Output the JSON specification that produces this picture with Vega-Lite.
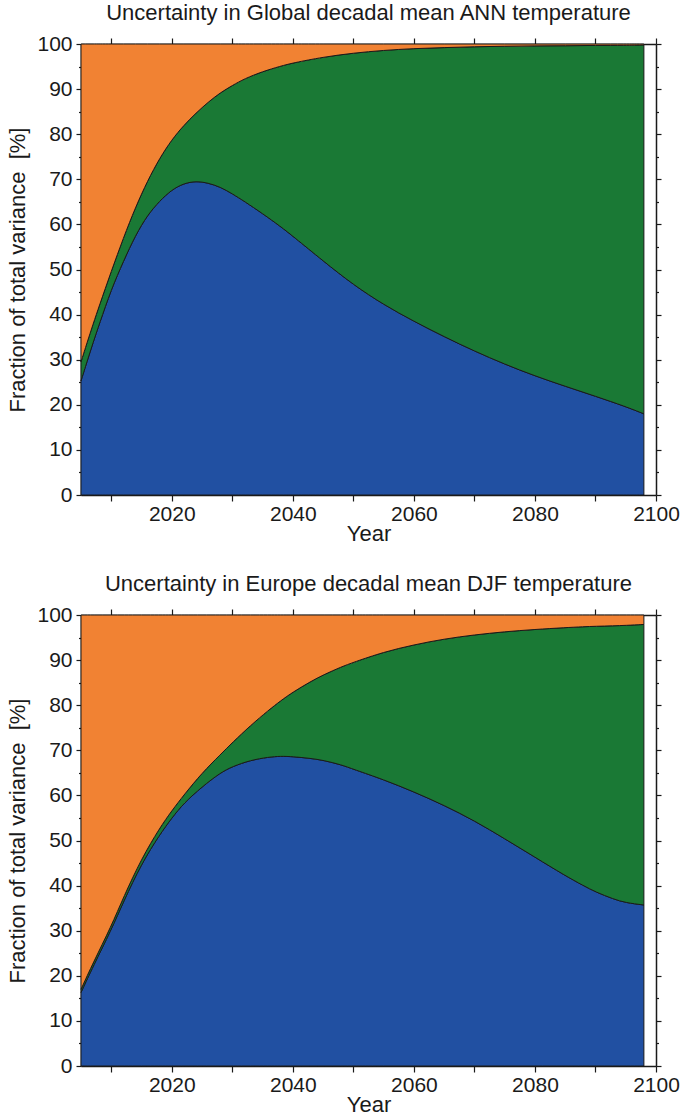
{
  "$schema": "https://vega.github.io/schema/vega-lite/v6.json",
  "padding": {"left": 6, "top": 2, "right": 5, "bottom": 0},
  "spacing": 29,
  "config": {
    "font": "Liberation Sans",
    "view": {"stroke": null},
    "title": {"fontSize": 22, "fontWeight": "normal", "color": "#1a1a1a", "offset": 8, "anchor": "middle"},
    "axis": {
      "grid": false,
      "domainColor": "#1a1a1a",
      "domainWidth": 1.5,
      "tickColor": "#1a1a1a",
      "tickWidth": 1.2,
      "labelFontSize": 21,
      "labelColor": "#1a1a1a",
      "titleFontSize": 22,
      "titleFontWeight": "normal",
      "titleColor": "#1a1a1a",
      "labelFlush": false,
      "labelOverlap": false
    }
  },
  "datasets": {
    "global": [
      {"year": 2005, "model": 25.3, "scenario": 4.2, "variability": 70.5},
      {"year": 2006, "model": 29.6, "scenario": 4.2, "variability": 66.2},
      {"year": 2007, "model": 33.8, "scenario": 4.1, "variability": 62.1},
      {"year": 2008, "model": 37.8, "scenario": 4.1, "variability": 58.1},
      {"year": 2010, "model": 45.6, "scenario": 4.0, "variability": 50.4},
      {"year": 2012, "model": 51.8, "scenario": 5.2, "variability": 43.0},
      {"year": 2014, "model": 57.6, "scenario": 6.2, "variability": 36.2},
      {"year": 2016, "model": 62.1, "scenario": 7.6, "variability": 30.3},
      {"year": 2018, "model": 65.2, "scenario": 9.5, "variability": 25.3},
      {"year": 2020, "model": 67.7, "scenario": 11.1, "variability": 21.2},
      {"year": 2022, "model": 69.1, "scenario": 12.9, "variability": 18.0},
      {"year": 2024, "model": 69.6, "scenario": 15.1, "variability": 15.3},
      {"year": 2026, "model": 69.2, "scenario": 17.9, "variability": 12.9},
      {"year": 2028, "model": 68.3, "scenario": 20.9, "variability": 10.8},
      {"year": 2030, "model": 66.8, "scenario": 24.0, "variability": 9.2},
      {"year": 2032, "model": 65.1, "scenario": 27.2, "variability": 7.7},
      {"year": 2035, "model": 62.4, "scenario": 31.5, "variability": 6.1},
      {"year": 2038, "model": 59.5, "scenario": 35.6, "variability": 4.9},
      {"year": 2040, "model": 57.4, "scenario": 38.4, "variability": 4.2},
      {"year": 2045, "model": 51.9, "scenario": 45.2, "variability": 2.9},
      {"year": 2050, "model": 46.6, "scenario": 51.4, "variability": 2.0},
      {"year": 2055, "model": 42.2, "scenario": 56.4, "variability": 1.4},
      {"year": 2060, "model": 38.5, "scenario": 60.5, "variability": 1.0},
      {"year": 2065, "model": 35.1, "scenario": 64.1, "variability": 0.8},
      {"year": 2070, "model": 31.9, "scenario": 67.5, "variability": 0.6},
      {"year": 2075, "model": 29.0, "scenario": 70.5, "variability": 0.5},
      {"year": 2080, "model": 26.4, "scenario": 73.2, "variability": 0.4},
      {"year": 2085, "model": 24.1, "scenario": 75.5, "variability": 0.4},
      {"year": 2090, "model": 21.9, "scenario": 77.8, "variability": 0.3},
      {"year": 2095, "model": 19.6, "scenario": 80.1, "variability": 0.3},
      {"year": 2098, "model": 18.0, "scenario": 81.8, "variability": 0.2}
    ],
    "europe": [
      {"year": 2005, "model": 16.3, "scenario": 0.7, "variability": 83.0},
      {"year": 2007, "model": 22.1, "scenario": 0.8, "variability": 77.1},
      {"year": 2010, "model": 30.2, "scenario": 0.8, "variability": 69.0},
      {"year": 2012, "model": 36.4, "scenario": 1.0, "variability": 62.6},
      {"year": 2015, "model": 44.9, "scenario": 1.1, "variability": 54.0},
      {"year": 2018, "model": 51.3, "scenario": 1.5, "variability": 47.2},
      {"year": 2020, "model": 55.0, "scenario": 1.6, "variability": 43.4},
      {"year": 2022, "model": 58.3, "scenario": 1.8, "variability": 39.9},
      {"year": 2025, "model": 61.9, "scenario": 3.1, "variability": 35.0},
      {"year": 2028, "model": 65.0, "scenario": 4.0, "variability": 31.0},
      {"year": 2030, "model": 66.4, "scenario": 5.3, "variability": 28.3},
      {"year": 2033, "model": 67.8, "scenario": 7.7, "variability": 24.5},
      {"year": 2036, "model": 68.5, "scenario": 10.4, "variability": 21.1},
      {"year": 2038, "model": 68.7, "scenario": 12.3, "variability": 19.0},
      {"year": 2040, "model": 68.6, "scenario": 14.3, "variability": 17.1},
      {"year": 2043, "model": 68.2, "scenario": 17.1, "variability": 14.7},
      {"year": 2045, "model": 67.8, "scenario": 18.9, "variability": 13.3},
      {"year": 2048, "model": 66.8, "scenario": 21.7, "variability": 11.5},
      {"year": 2050, "model": 65.8, "scenario": 23.7, "variability": 10.5},
      {"year": 2055, "model": 63.5, "scenario": 28.3, "variability": 8.2},
      {"year": 2060, "model": 60.8, "scenario": 32.6, "variability": 6.6},
      {"year": 2065, "model": 57.8, "scenario": 36.9, "variability": 5.3},
      {"year": 2070, "model": 54.4, "scenario": 41.2, "variability": 4.4},
      {"year": 2075, "model": 50.4, "scenario": 45.9, "variability": 3.7},
      {"year": 2080, "model": 46.3, "scenario": 50.5, "variability": 3.2},
      {"year": 2085, "model": 42.2, "scenario": 55.0, "variability": 2.8},
      {"year": 2088, "model": 40.0, "scenario": 57.4, "variability": 2.6},
      {"year": 2090, "model": 38.6, "scenario": 58.9, "variability": 2.5},
      {"year": 2093, "model": 37.0, "scenario": 60.6, "variability": 2.4},
      {"year": 2095, "model": 36.2, "scenario": 61.5, "variability": 2.3},
      {"year": 2098, "model": 35.7, "scenario": 62.2, "variability": 2.1}
    ]
  },
  "vconcat": [
    {
      "title": {"text": "Uncertainty in Global decadal mean ANN temperature"},
      "width": 575,
      "height": 451,
      "data": {"name": "global"},
      "transform": [{"fold": ["model", "scenario", "variability"], "as": ["source", "fraction"]}],
      "resolve": {"axis": {"x": "independent", "y": "independent"}},
      "layer": [
        {
          "mark": {"type": "area", "interpolate": "basis", "stroke": "#1a1a1a", "strokeWidth": 1},
          "encoding": {
            "x": {"field": "year", "type": "quantitative",
              "scale": {"domain": [2005, 2100], "nice": false, "zero": false},
              "axis": {"orient": "bottom", "values": [2010, 2020, 2030, 2040, 2050, 2060, 2070, 2080, 2090, 2100], "format": "d",
                "labelExpr": "datum.value % 20 == 0 ? datum.label : ''", "tickSize": 6, "labelPadding": 2, "title": "Year", "titlePadding": -1}},
            "y": {"field": "fraction", "type": "quantitative", "stack": "zero",
              "scale": {"domain": [0, 100], "nice": false},
              "axis": {"orient": "left", "values": [0, 5, 10, 15, 20, 25, 30, 35, 40, 45, 50, 55, 60, 65, 70, 75, 80, 85, 90, 95, 100],
                "labelExpr": "datum.value % 10 == 0 ? datum.label : ''",
                "tickSize": {"condition": {"test": "datum.value % 10 == 0", "value": 5}, "value": 2.5},
                "labelPadding": 4, "title": "Fraction of total variance \u00a0[%]", "titlePadding": 7}},
            "color": {"field": "source", "type": "nominal",
              "scale": {"domain": ["model", "scenario", "variability"], "range": ["#2150A2", "#1A7935", "#F18233"]},
              "legend": null},
            "order": {"field": "source", "sort": "ascending"}
          }
        },
        {
          "mark": {"type": "point", "opacity": 0},
          "encoding": {
            "x": {"field": "year", "type": "quantitative",
              "axis": {"orient": "top", "values": [2010, 2020, 2030, 2040, 2050, 2060, 2070, 2080, 2090, 2100], "labels": false, "tickSize": 6, "title": null}},
            "y": {"field": "fraction", "type": "quantitative",
              "axis": {"orient": "right", "values": [0, 5, 10, 15, 20, 25, 30, 35, 40, 45, 50, 55, 60, 65, 70, 75, 80, 85, 90, 95, 100], "labels": false,
                "tickSize": {"condition": {"test": "datum.value % 10 == 0", "value": 5}, "value": 2.5}, "title": null}}
          }
        }
      ]
    },
    {
      "title": {"text": "Uncertainty in Europe decadal mean DJF temperature"},
      "width": 575,
      "height": 451,
      "data": {"name": "europe"},
      "transform": [{"fold": ["model", "scenario", "variability"], "as": ["source", "fraction"]}],
      "resolve": {"axis": {"x": "independent", "y": "independent"}},
      "layer": [
        {
          "mark": {"type": "area", "interpolate": "basis", "stroke": "#1a1a1a", "strokeWidth": 1},
          "encoding": {
            "x": {"field": "year", "type": "quantitative",
              "scale": {"domain": [2005, 2100], "nice": false, "zero": false},
              "axis": {"orient": "bottom", "values": [2010, 2020, 2030, 2040, 2050, 2060, 2070, 2080, 2090, 2100], "format": "d",
                "labelExpr": "datum.value % 20 == 0 ? datum.label : ''", "tickSize": 6, "labelPadding": 2, "title": "Year", "titlePadding": -1}},
            "y": {"field": "fraction", "type": "quantitative", "stack": "zero",
              "scale": {"domain": [0, 100], "nice": false},
              "axis": {"orient": "left", "values": [0, 5, 10, 15, 20, 25, 30, 35, 40, 45, 50, 55, 60, 65, 70, 75, 80, 85, 90, 95, 100],
                "labelExpr": "datum.value % 10 == 0 ? datum.label : ''",
                "tickSize": {"condition": {"test": "datum.value % 10 == 0", "value": 5}, "value": 2.5},
                "labelPadding": 4, "title": "Fraction of total variance \u00a0[%]", "titlePadding": 7}},
            "color": {"field": "source", "type": "nominal",
              "scale": {"domain": ["model", "scenario", "variability"], "range": ["#2150A2", "#1A7935", "#F18233"]},
              "legend": null},
            "order": {"field": "source", "sort": "ascending"}
          }
        },
        {
          "mark": {"type": "point", "opacity": 0},
          "encoding": {
            "x": {"field": "year", "type": "quantitative",
              "axis": {"orient": "top", "values": [2010, 2020, 2030, 2040, 2050, 2060, 2070, 2080, 2090, 2100], "labels": false, "tickSize": 6, "title": null}},
            "y": {"field": "fraction", "type": "quantitative",
              "axis": {"orient": "right", "values": [0, 5, 10, 15, 20, 25, 30, 35, 40, 45, 50, 55, 60, 65, 70, 75, 80, 85, 90, 95, 100], "labels": false,
                "tickSize": {"condition": {"test": "datum.value % 10 == 0", "value": 5}, "value": 2.5}, "title": null}}
          }
        }
      ]
    }
  ]
}
